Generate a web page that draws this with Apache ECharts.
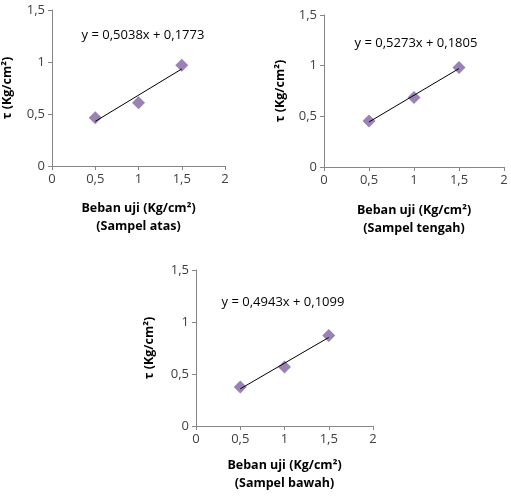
<!DOCTYPE html>
<html><head><meta charset="utf-8">
<script src="https://cdn.jsdelivr.net/npm/echarts@6/dist/echarts.min.js"></script>
<style>html,body{margin:0;padding:0;background:#fff}#c{width:511px;height:500px}</style>
</head><body><div id="c"></div>
<script>
const xValues = [0.5, 1, 1.5];
const atas = [0.465, 0.609, 0.969];
const tengah = [0.455, 0.686, 0.982];
const bawah = [0.375, 0.568, 0.869];
const slopes = [0.5038, 0.5273, 0.4943];
const intercepts = [0.1773, 0.1805, 0.1099];
const equations = ['y = 0,5038x + 0,1773', 'y = 0,5273x + 0,1805', 'y = 0,4943x + 0,1099'];
const samples = ['(Sampel atas)', '(Sampel tengah)', '(Sampel bawah)'];
const xTitle = 'Beban uji (Kg/cm²)';
const yTitle = 'τ (Kg/cm²)';
const seriesData = [atas, tengah, bawah];

const FONT = 'Open Sans';
const grids = [
  {left: 49, top: 10, width: 176, height: 156},
  {left: 324, top: 15, width: 180, height: 152},
  {left: 196, top: 270, width: 177, height: 156}
];
const yGaps = [38, 37, 40];
const xGaps = [33, 34, 30];
const eqPos = [[143, 35], [416, 43], [283, 302]];
const fmt = v => String(v).replace('.', ',');

const option = {
  animation: false,
  grid: grids,
  xAxis: grids.map((g, i) => ({
    gridIndex: i, type: 'value', min: 0, max: 2, interval: 0.5,
    splitLine: {show: false},
    axisLine: {show: true, lineStyle: {color: '#868686', width: 1}},
    axisTick: {show: true, length: 4, lineStyle: {color: '#868686'}},
    axisLabel: {formatter: fmt, color: '#404040', fontSize: 13, fontFamily: FONT, margin: 7},
    name: '{a|' + xTitle + '}\n{a|' + samples[i] + '}',
    nameLocation: 'middle', nameGap: xGaps[i],
    nameTextStyle: {rich: {a: {fontWeight: 'bold', fontSize: 12.5, fontFamily: FONT, color: '#000', lineHeight: 18}}}
  })),
  yAxis: grids.map((g, i) => ({
    gridIndex: i, type: 'value', min: 0, max: 1.5, interval: 0.5,
    splitLine: {show: false},
    axisLine: {show: true, lineStyle: {color: '#868686', width: 1}},
    axisTick: {show: true, length: 4, lineStyle: {color: '#868686'}},
    axisLabel: {formatter: fmt, color: '#404040', fontSize: 13, fontFamily: FONT, margin: 7},
    name: yTitle, nameLocation: 'middle', nameRotate: 90, nameGap: yGaps[i],
    nameTextStyle: {fontWeight: 'bold', fontSize: 12.5, fontFamily: FONT, color: '#000'}
  })),
  series: [].concat(...seriesData.map((d, i) => [
    {
      type: 'line', xAxisIndex: i, yAxisIndex: i, symbol: 'none', silent: true,
      lineStyle: {color: '#000', width: 1},
      data: [[xValues[0], slopes[i] * xValues[0] + intercepts[i]],
             [xValues[xValues.length - 1], slopes[i] * xValues[xValues.length - 1] + intercepts[i]]]
    },
    {
      type: 'scatter', xAxisIndex: i, yAxisIndex: i, symbol: 'diamond', symbolSize: 13,
      itemStyle: {color: '#8064A2'},
      data: xValues.map((x, k) => [x, d[k]])
    }
  ])),
  graphic: equations.map((t, i) => ({
    type: 'text', x: eqPos[i][0], y: eqPos[i][1],
    style: {text: t, fontSize: 13, fontFamily: FONT, fill: '#000', align: 'center', verticalAlign: 'middle'}
  }))
};
echarts.init(document.getElementById('c')).setOption(option);
</script></body></html>
